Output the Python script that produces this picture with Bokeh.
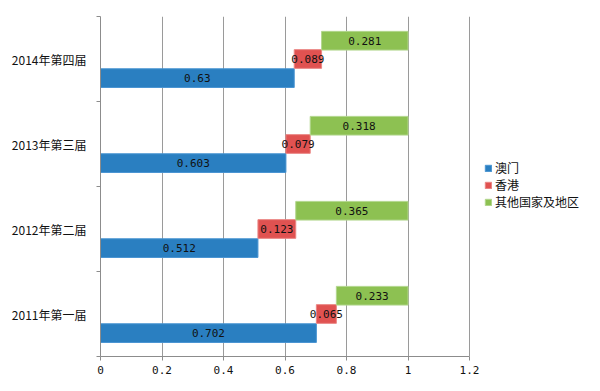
from bokeh.plotting import figure
from bokeh.models import (ColumnDataSource, Range1d, FixedTicker, NumeralTickFormatter,
                          Legend, LegendItem)
from bokeh.core.properties import value
from bokeh.embed import file_html
from bokeh.resources import INLINE

categories = ["2011年第一届", "2012年第二届", "2013年第三届", "2014年第四届"]
macau = [0.702, 0.512, 0.603, 0.63]
hongkong = [0.065, 0.123, 0.079, 0.089]
others = [0.233, 0.365, 0.318, 0.281]
series_names = ["澳门", "香港", "其他国家及地区"]
x_ticks = [0, 0.2, 0.4, 0.6, 0.8, 1.0, 1.2]

fills = ["#2a7fc1", "#e05251", "#8dc152"]
edges = ["#4a95d2", "#ea8583", "#b2d68d"]
offsets = [-0.225, 0.0, 0.215]
bar_h = 0.22

p = figure(width=592, height=383, output_backend="svg", toolbar_location=None,
           x_range=Range1d(0, 1.6), y_range=Range1d(0, 4),
           min_border_left=100, min_border_right=0, min_border_top=16, min_border_bottom=27)
p.outline_line_color = None
p.background_fill_color = "white"
p.border_fill_color = "white"

renderers = []
lefts = [0.0] * len(categories)
for k, vals in enumerate([macau, hongkong, others]):
    ys = [i + 0.5 + offsets[k] for i in range(len(categories))]
    rights = [l + v for l, v in zip(lefts, vals)]
    src = ColumnDataSource(dict(y=ys, left=lefts, right=rights,
                                mid=[(l + r) / 2 for l, r in zip(lefts, rights)],
                                lab=[str(v) for v in vals]))
    r = p.hbar(y="y", left="left", right="right", height=bar_h, source=src,
               fill_color=fills[k], line_color=edges[k], line_width=1)
    p.text(x="mid", y="y", text="lab", source=src, text_align="center",
           text_baseline="middle", text_font=value("DejaVu Sans Mono"),
           text_font_size="11px", text_color="#111111")
    renderers.append(r)
    lefts = rights

# x axis
xa = p.xaxis[0]
xa.ticker = FixedTicker(ticks=x_ticks)
xa.formatter = NumeralTickFormatter(format="0.[0]")
xa.bounds = (0, 1.2)
xa.axis_line_color = "#8c8c8c"
xa.major_tick_line_color = "#8c8c8c"
xa.major_tick_out = 4
xa.major_tick_in = 0
xa.minor_tick_out = 0
xa.minor_tick_in = 0
xa.major_label_text_font = "DejaVu Sans Mono"
xa.major_label_text_font_size = "11px"
xa.major_label_text_color = "#111111"
xa.major_label_standoff = 5

# y axis
ya = p.yaxis[0]
ya.ticker = FixedTicker(ticks=[i + 0.5 for i in range(len(categories))],
                        minor_ticks=[0, 1, 2, 3, 4])
ya.major_label_overrides = {i + 0.5: c for i, c in enumerate(categories)}
ya.axis_line_color = "#8c8c8c"
ya.major_tick_out = 0
ya.major_tick_in = 0
ya.minor_tick_line_color = "#8c8c8c"
ya.minor_tick_out = 4
ya.minor_tick_in = 0
ya.major_label_text_font = "Noto Sans CJK SC"
ya.major_label_text_font_size = "12px"
ya.major_label_text_color = "#111111"
ya.major_label_standoff = 10

p.xgrid.grid_line_color = "#9a9a9a"
p.ygrid.grid_line_color = None

legend = Legend(items=[LegendItem(label=n, renderers=[r]) for n, r in zip(series_names, renderers)],
                location=(384, 146), orientation="vertical",
                glyph_width=8, glyph_height=8, label_standoff=3, spacing=-3,
                padding=0, margin=0, border_line_color=None, background_fill_alpha=0,
                label_text_font="Noto Sans CJK SC", label_text_font_size="12px",
                label_text_color="#111111", label_height=14)
p.add_layout(legend)

open("out.html", "w").write(file_html(p, INLINE))
